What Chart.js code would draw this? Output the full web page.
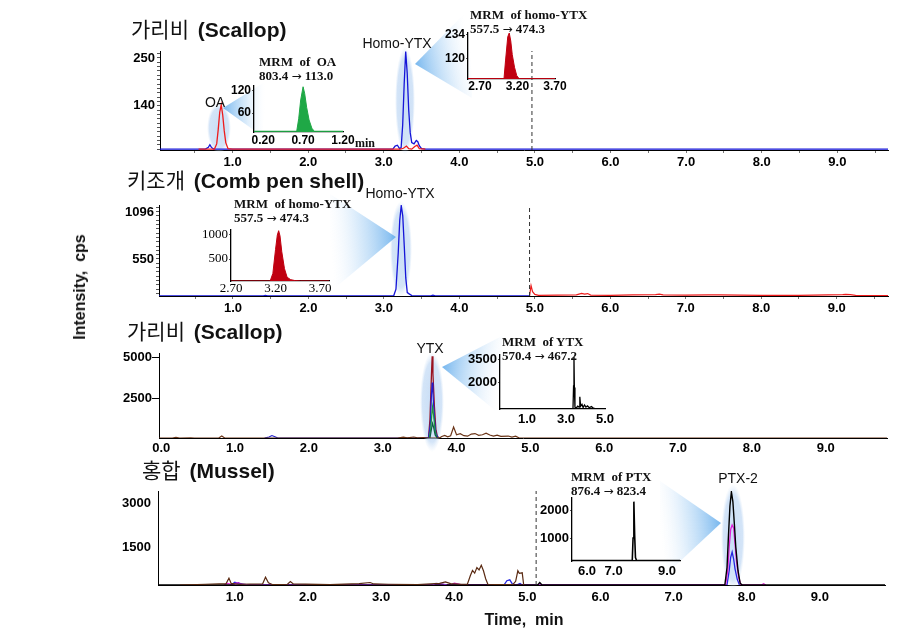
<!DOCTYPE html>
<html><head><meta charset="utf-8">
<script src="https://cdn.jsdelivr.net/npm/chart.js@4.4.1/dist/chart.umd.min.js"></script>
<style>
html,body{margin:0;padding:0;background:#fff;}
body{width:897px;height:640px;position:relative;overflow:hidden;font-family:'Liberation Sans',Arial,sans-serif;}
canvas{position:absolute;}
.t{position:absolute;white-space:pre;line-height:1;color:#111;transform:translateY(-50%);}
.c{transform:translate(-50%,-50%);}
.kr{font-family:'Noto Sans CJK KR',sans-serif;font-weight:400;}
.en{font-family:'Liberation Sans',Arial,sans-serif;font-weight:bold;margin-left:3px;}
.ar{font-family:'DejaVu Sans',sans-serif;font-weight:normal;font-size:12px;}
</style></head>
<body>
<script>
// ---------------- DATA ----------------
// Panel 1: 가리비 (Scallop) - OA and homo-YTX  [time(min), intensity(cps)]
const scallop1Red = [[0.55,40],[0.76,40],[0.79,52],[0.81,85],[0.83,125],[0.85,142],[0.87,118],[0.89,82],[0.91,55],[0.94,41],[1.00,40],[3.22,40],[3.26,42],[3.30,47],[3.33,41],[3.37,40],[3.41,46],[3.44,49],[3.47,41],[3.55,40]];
const scallop1Blue = [[0.04,40],[0.64,40],[0.68,44],[0.70,50],[0.72,44],[0.75,40],[3.12,40],[3.15,47],[3.18,49],[3.21,41],[3.23,44],[3.25,95],[3.27,190],[3.29,265],[3.31,215],[3.33,130],[3.35,78],[3.37,55],[3.40,52],[3.43,60],[3.45,57],[3.47,48],[3.50,41],[3.55,40],[9.67,40]];
const scallop1Cut = [[4.96,38],[4.96,266]];
const scallop1YLabels = [140, 250];
// Panel 2: 키조개 (Comb pen shell) - homo-YTX
const combBlue = [[0.02,122],[1.40,122],[1.43,126],[1.46,122],[3.13,122],[3.16,200],[3.19,620],[3.21,1000],[3.23,1170],[3.25,1050],[3.27,700],[3.29,330],[3.31,160],[3.34,142],[3.37,125],[3.40,122],[3.62,122],[3.65,130],[3.68,122],[4.93,122]];
const combRed = [[4.93,122],[4.95,240],[4.97,170],[5.00,138],[5.05,128],[5.30,130],[5.55,133],[5.62,150],[5.66,142],[5.70,148],[5.74,130],[6.00,128],[6.30,132],[6.60,137],[6.65,142],[6.70,133],[7.00,130],[7.30,132],[7.45,134],[8.00,128],[8.50,127],[9.08,137],[9.12,140],[9.18,135],[9.25,127],[9.68,124]];
const combCut = [[4.93,120],[4.93,1190]];
const combYLabels = [550, 1096];
// Panel 3: 가리비 (Scallop) - YTX
const scallop2DarkRed = [[3.55,60],[3.62,60],[3.64,1200],[3.66,3900],[3.67,5050],[3.68,4000],[3.70,2000],[3.72,600],[3.74,150],[3.77,60]];
const scallop2Blue = [[1.40,60],[1.46,120],[1.50,210],[1.54,140],[1.58,60],[3.62,60],[3.645,900],[3.66,2700],[3.67,3450],[3.68,2800],[3.70,1300],[3.72,350],[3.75,60]];
const scallop2Green = [[3.63,60],[3.65,600],[3.665,1500],[3.675,1950],[3.69,1400],[3.71,500],[3.73,100],[3.75,60]];
const scallop2Teal = [[3.64,60],[3.66,600],[3.675,950],[3.69,700],[3.71,250],[3.74,60]];
const scallop2Brown = [[-0.03,60],[0.15,60],[0.20,95],[0.25,60],[0.40,75],[0.45,60],[0.78,60],[0.82,180],[0.86,60],[1.20,60],[3.20,60],[3.28,110],[3.33,65],[3.42,120],[3.47,70],[3.55,90],[3.60,60],[3.77,60],[3.80,150],[3.84,220],[3.88,130],[3.92,200],[3.96,730],[4.00,260],[4.05,320],[4.10,200],[4.15,170],[4.20,300],[4.25,330],[4.30,220],[4.35,260],[4.40,350],[4.45,240],[4.50,170],[4.55,230],[4.60,160],[4.70,180],[4.75,120],[4.80,170],[4.85,60],[9.83,60]];
const scallop2YLabels = [2500, 5000];
// Panel 4: 홍합 (Mussel) - PTX-2
const musselBrown = [[0.25,205],[0.60,230],[0.88,250],[0.92,440],[0.95,260],[1.05,230],[1.38,240],[1.42,470],[1.46,280],[1.52,215],[1.72,230],[1.76,320],[1.80,240],[2.30,215],[2.70,250],[2.85,290],[2.90,240],[3.10,230],[3.50,220],[3.80,260],[3.88,310],[3.95,250],[4.10,230],[4.18,230],[4.22,520],[4.25,700],[4.28,610],[4.31,800],[4.34,720],[4.37,880],[4.40,690],[4.43,420],[4.46,230],[4.80,215],[4.84,330],[4.87,690],[4.89,600],[4.93,620],[4.95,205]];
const musselPurple = [[1.00,205],[1.05,270],[1.12,240],[1.20,205],[3.70,205],[3.75,260],[3.85,240],[3.90,205]];
const musselMagenta = [[0.85,205],[0.90,260],[0.95,230],[1.05,280],[1.10,205],[3.95,205],[4.00,270],[4.05,240],[4.10,205],[7.71,205],[7.74,700],[7.76,1500],[7.78,2100],[7.80,2250],[7.82,2150],[7.84,1600],[7.86,1000],[7.89,450],[7.92,205],[8.20,205],[8.23,250],[8.26,205]];
const musselBlue = [[0.95,205],[1.00,300],[1.05,250],[1.10,205],[4.68,205],[4.72,350],[4.76,380],[4.80,220],[4.85,205],[4.90,260],[4.93,205],[7.73,205],[7.76,700],[7.78,1150],[7.80,1330],[7.82,1100],[7.84,750],[7.87,400],[7.90,205]];
const musselBlack = [[-0.05,205],[5.14,205],[5.17,290],[5.20,205],[7.70,205],[7.73,800],[7.75,1900],[7.77,2900],[7.79,3380],[7.81,3050],[7.83,2300],[7.85,1500],[7.88,700],[7.91,260],[7.94,205],[9.89,205]];
const musselCut = [[5.12,205],[5.12,3410]];
const musselYLabels = [1500, 3000];
// Insets (MRM traces)
const insetOA = [[0.085,12],[0.62,12],[0.645,45],[0.67,95],[0.70,130],[0.72,112],[0.745,75],[0.775,42],[0.81,20],[0.84,12],[1.20,12]];
const insetOAX = [0.20, 0.70, 1.20], insetOAY = [60, 120];
const insetHomo1 = [[2.54,26],[3.02,26],[3.04,110],[3.07,225],[3.09,243],[3.11,205],[3.13,140],[3.16,80],[3.19,40],[3.22,26],[3.70,26]];
const insetHomo1X = [2.70, 3.20, 3.70], insetHomo1Y = [120, 234];
const insetHomo2 = [[2.70,44],[3.14,44],[3.17,200],[3.20,700],[3.22,1000],[3.235,1090],[3.25,980],[3.27,650],[3.30,300],[3.33,120],[3.37,70],[3.42,50],[3.48,44],[3.80,44]];
const insetHomo2X = [2.70, 3.20, 3.70], insetHomo2Y = [500, 1000];
const insetYTX = [[-0.38,330],[3.36,330],[3.39,1800],[3.41,3690],[3.43,1700],[3.46,420],[3.52,360],[3.60,480],[3.67,420],[3.71,1100],[3.75,480],[3.82,600],[3.88,400],[3.95,560],[4.02,420],[4.10,500],[4.20,380],[4.30,460],[4.40,360],[4.50,330]];
const insetYTXX = [1.0, 3.0, 5.0], insetYTXY = [2000, 3500];
const insetPTX = [[5.44,200],[7.70,200],[7.73,1000],[7.76,2300],[7.79,1100],[7.82,300],[7.86,200],[9.49,200]];
const insetPTXX = [6.0, 7.0, 9.0], insetPTXY = [1000, 2000];
const timeLabels = [1,2,3,4,5,6,7,8,9];
const timeLabels0 = [0,1,2,3,4,5,6,7,8,9];

// ---------------- HELPERS ----------------
const SANS = "'Liberation Sans', Arial, sans-serif";
const SERIF = "'Liberation Serif', 'Times New Roman', serif";
function pts(a){ return a.map(p => ({x:p[0], y:p[1]})); }
function range(a,b,s){ const r=[]; for(let v=a; v<=b+1e-9; v+=s) r.push(Math.round(v*1000)/1000); return r; }
function line(data,color,w,extra){ return Object.assign({data:pts(data),borderColor:color,borderWidth:w||1.2,pointRadius:0,fill:false,tension:0}, extra||{}); }

function drawGlow(ctx,g,ox,oy){
  ctx.save();
  if(g.type==='e'){
    ctx.translate(g.cx-ox, g.cy-oy);
    ctx.scale(1, g.ry/g.rx);
    const grd = ctx.createRadialGradient(0,0,0,0,0,g.rx);
    grd.addColorStop(0,'rgba(178,208,242,0.7)');
    grd.addColorStop(0.8,'rgba(185,212,243,0.62)');
    grd.addColorStop(1,'rgba(205,225,247,0.0)');
    ctx.fillStyle = grd;
    ctx.beginPath(); ctx.arc(0,0,g.rx,0,Math.PI*2); ctx.fill();
  } else {
    const [a,b,c] = g.p;
    const mx=(b[0]+c[0])/2, my=(b[1]+c[1])/2;
    const grd = ctx.createLinearGradient(a[0]-ox,a[1]-oy,mx-ox,my-oy);
    grd.addColorStop(0,'rgba(95,170,235,0.85)');
    grd.addColorStop(0.55,'rgba(170,210,245,0.45)');
    grd.addColorStop(1,'rgba(225,238,252,0)');
    ctx.fillStyle = grd;
    ctx.beginPath(); ctx.moveTo(a[0]-ox,a[1]-oy); ctx.lineTo(b[0]-ox,b[1]-oy); ctx.lineTo(c[0]-ox,c[1]-oy); ctx.closePath(); ctx.fill();
  }
  ctx.restore();
}

let chartN = 0;
function makeChart(o){
  const c = document.createElement('canvas');
  c.width=o.w; c.height=o.h;
  c.style.left=o.x+'px'; c.style.top=o.y+'px'; c.style.width=o.w+'px'; c.style.height=o.h+'px';
  document.body.appendChild(c);
  const [L,T,R,B] = o.area;
  const pad = {left:L-o.x-o.yW, top:T-o.y, right:o.x+o.w-R, bottom:o.y+o.h-B-o.xH};
  const glows = o.glows||[];
  const plug = {id:'glow'+(chartN++), beforeDatasetsDraw(ch){ glows.forEach(g=>drawGlow(ch.ctx,g,o.x,o.y)); }};
  const xLab = new Set(o.xLabels.map(v=>Math.round(v*1000)));
  const yLab = new Set(o.yLabels.map(v=>Math.round(v*1000)));
  return new Chart(c,{
    type:'line',
    data:{datasets:o.datasets},
    options:{
      responsive:false, animation:false, devicePixelRatio:1, events:[],
      layout:{padding:pad},
      plugins:{legend:{display:false},tooltip:{enabled:false},title:{display:false}},
      scales:{
        x:{type:'linear',bounds:'data',min:o.xMin,max:o.xMax,
          afterFit:s=>{s.height=o.xH;},
          afterBuildTicks:s=>{s.ticks=o.xTicks.map(v=>({value:v}));},
          ticks:{autoSkip:false,maxRotation:0,minRotation:0,padding:o.xPad,color:'#000',font:o.xFont||o.font,
            callback:v=>xLab.has(Math.round(v*1000))?v.toFixed(o.xDec):''},
          grid:{drawOnChartArea:false,drawTicks:o.xTL>0,tickLength:o.xTL||0,tickColor:'#777',tickWidth:1},
          border:{display:true,color:'#000',width:o.bw||1}},
        y:{type:'linear',bounds:'data',min:o.yMin,max:o.yMax,
          afterFit:s=>{s.width=o.yW;},
          afterBuildTicks:s=>{s.ticks=o.yTicks.map(v=>({value:v}));},
          ticks:{autoSkip:false,padding:o.yPad,color:'#000',font:o.yFont||o.font,
            callback:v=>yLab.has(Math.round(v*1000))?String(v):''},
          grid:{drawOnChartArea:false,drawTicks:o.yTL>0,tickLength:o.yTL||0,tickColor:o.yTC||'#555',tickWidth:1},
          border:{display:true,color:'#000',width:o.bw||1}}
      }
    },
    plugins:[plug]
  });
}
const tickFont = {family:SANS,size:13,weight:'bold'};
const insetFont = {family:SANS,size:12,weight:'bold'};

// ---------------- PANEL 1 ----------------
makeChart({x:0,y:0,w:897,h:178,area:[160,51,888,150],yW:60,xH:22,
  xMin:0.04,xMax:9.67,yMin:38,yMax:266,
  xTicks:range(0.5,9.5,0.5),xLabels:timeLabels,xDec:1,xTL:3,xPad:2,
  yTicks:range(40,260,10),yLabels:scallop1YLabels,yTL:3,yPad:2,font:tickFont,
  glows:[{type:'e',cx:219,cy:128,rx:12,ry:25},{type:'t',p:[[223,108],[268,80],[262,136]]},
         {type:'e',cx:405,cy:101,rx:10,ry:54},{type:'t',p:[[415,64],[470,8],[472,98]]}],
  datasets:[line(scallop1Cut,'#333',1,{borderDash:[4,3]}),line(scallop1Red,'#ee1c1c',1.3),line(scallop1Blue,'#1515d8',1.3)]});

// ---------------- PANEL 2 ----------------
makeChart({x:0,y:178,w:897,h:140,area:[159,205,888,296],yW:60,xH:22,
  xMin:0.02,xMax:9.68,yMin:120,yMax:1177,
  xTicks:range(0.5,9.5,0.5),xLabels:timeLabels,xDec:1,xTL:3,xPad:2,
  yTicks:range(150,1150,50).concat([1096]),yLabels:combYLabels,yTL:3,yPad:2,font:tickFont,
  glows:[{type:'e',cx:401,cy:249,rx:11,ry:48},{type:'t',p:[[396,237],[330,194],[330,292]]}],
  datasets:[line(combCut,'#333',1,{borderDash:[4,3]}),line(combRed,'#ee1c1c',1.2),line(combBlue,'#1515d8',1.3)]});

// ---------------- PANEL 3 ----------------
makeChart({x:0,y:318,w:897,h:145,area:[159,353,887,438],yW:60,xH:22,
  xMin:-0.03,xMax:9.83,yMin:60,yMax:5245,
  xTicks:timeLabels0,xLabels:timeLabels0,xDec:1,xTL:0,xPad:3,
  yTicks:scallop2YLabels,yLabels:scallop2YLabels,yTL:7,yTC:'#000',yPad:0,font:tickFont,
  glows:[{type:'e',cx:432,cy:402,rx:12,ry:50},{type:'t',p:[[442,367],[502,336],[502,416]]}],
  datasets:[line(scallop2Brown,'#6b3518',1.2),line(scallop2Teal,'#0d5f46',1.2),line(scallop2Green,'#1f9a3c',1.2),line(scallop2Blue,'#2020d0',1.2),line(scallop2DarkRed,'#9a1320',1.3)]});

// ---------------- PANEL 4 ----------------
makeChart({x:0,y:463,w:897,h:177,area:[158,491,885,585],yW:60,xH:22,
  xMin:-0.05,xMax:9.89,yMin:205,yMax:3410,
  xTicks:timeLabels,xLabels:timeLabels,xDec:1,xTL:0,xPad:5,
  yTicks:musselYLabels,yLabels:musselYLabels,yTL:0,yPad:7,font:tickFont,
  glows:[{type:'e',cx:733,cy:537,rx:12,ry:53},{type:'t',p:[[721,523],[660,481],[660,580]]}],
  datasets:[line(musselCut,'#333',1,{borderDash:[4,3]}),line(musselBrown,'#5a2a12',1.2),line(musselPurple,'#7a28c0',1.2),line(musselBlack,'#000',1.4),line(musselMagenta,'#e020d8',1.3),line(musselBlue,'#2525e0',1.3)]});

// ---------------- INSETS ----------------
function fillSet(data,color){ return {data:pts(data),borderColor:color,backgroundColor:color,borderWidth:1,pointRadius:0,fill:'start',tension:0}; }
// A: OA
makeChart({x:214,y:74,w:150,h:80,area:[254,86,343,132],yW:40,xH:18,
  xMin:0.085,xMax:1.20,yMin:10,yMax:132,
  xTicks:insetOAX,xLabels:insetOAX,xDec:2,xTL:0,xPad:1,
  yTicks:insetOAY,yLabels:insetOAY,yTL:2,yPad:1,font:insetFont,bw:1.3,
  datasets:[fillSet(insetOA,'#1fa846')]});
// B: homo-YTX (scallop)
makeChart({x:428,y:20,w:150,h:80,area:[468,33,555,79],yW:40,xH:18,
  xMin:2.54,xMax:3.70,yMin:24,yMax:243,
  xTicks:insetHomo1X,xLabels:insetHomo1X,xDec:2,xTL:0,xPad:0,
  yTicks:insetHomo1Y,yLabels:insetHomo1Y,yTL:2,yPad:1,font:insetFont,bw:1.3,
  datasets:[fillSet(insetHomo1,'#c00010')]});
// C: homo-YTX (comb pen shell)
makeChart({x:191,y:218,w:160,h:85,area:[231,230,329,281],yW:40,xH:18,
  xMin:2.70,xMax:3.80,yMin:42,yMax:1104,
  xTicks:insetHomo2X,xLabels:insetHomo2X,xDec:2,xTL:0,xPad:0,
  yTicks:insetHomo2Y,yLabels:insetHomo2Y,yTL:2,yPad:1,font:{family:SERIF,size:13,weight:'normal'},bw:1.3,
  datasets:[fillSet(insetHomo2,'#c00010')]});
// D: YTX
makeChart({x:455,y:343,w:175,h:85,area:[500,355,605,409],yW:45,xH:18,
  xMin:-0.38,xMax:5.0,yMin:300,yMax:3820,
  xTicks:insetYTXX,xLabels:insetYTXX,xDec:1,xTL:0,xPad:3,
  yTicks:insetYTXY,yLabels:insetYTXY,yTL:2,yPad:1,font:tickFont,bw:1.3,
  datasets:[line(insetYTX,'#000',1.3)]});
// E: PTX
makeChart({x:527,y:486,w:175,h:95,area:[572,498,680,561],yW:45,xH:18,
  xMin:5.44,xMax:9.49,yMin:180,yMax:2430,
  xTicks:insetPTXX,xLabels:insetPTXX,xDec:1,xTL:0,xPad:3,
  yTicks:insetPTXY,yLabels:insetPTXY,yTL:2,yPad:1,font:tickFont,bw:1.3,
  datasets:[line(insetPTX,'#000',1.6)]});

// ---------------- TEXT ----------------
function txt(html,x,y,css,center){
  const d=document.createElement('div'); d.className='t'+(center?' c':''); d.innerHTML=html;
  d.style.left=x+'px'; d.style.top=y+'px'; if(css) d.style.cssText+=css; document.body.appendChild(d);
}
function title(kr,en,x,y){ txt('<span class="kr">'+kr+'</span><span class="en"> '+en+'</span>',x,y,'font-size:21px;'); }
title('가리비','(Scallop)',131,29);
title('키조개','(Comb pen shell)',127,180);
title('가리비','(Scallop)',127,331);
title('홍합','(Mussel)',142,470);

const pk='font-family:'+SANS+';font-size:14px;';
txt('OA',215,102,pk,true);
txt('Homo-YTX',397,43,pk,true);
txt('Homo-YTX',400,193,pk,true);
txt('YTX',430,348,pk,true);
txt('PTX-2',738,478,pk,true);

const mr='font-family:'+SERIF+';font-weight:bold;font-size:13px;';
const AR='<span class="ar">→</span>';
function mrm(name,trans,x,y){ txt('MRM  of '+name,x,y,mr); txt(trans[0]+' '+AR+' '+trans[1],x,y+14,mr); }
mrm(' OA',['803.4','113.0'],259,61);
mrm('homo-YTX',['557.5','474.3'],470,14);
mrm('homo-YTX',['557.5','474.3'],234,203);
mrm('YTX',['570.4','467.2'],502,341);
mrm('PTX',['876.4','823.4'],571,476);
txt('min',355,143,mr+'font-size:12px;');

txt('Time,  min',524,620,'font-family:'+SANS+';font-weight:bold;font-size:16px;',true);
txt('Intensity,  cps',80,287,'font-family:'+SANS+';font-weight:bold;font-size:16px;transform:translate(-50%,-50%) rotate(-90deg);');
</script>
</body></html>
